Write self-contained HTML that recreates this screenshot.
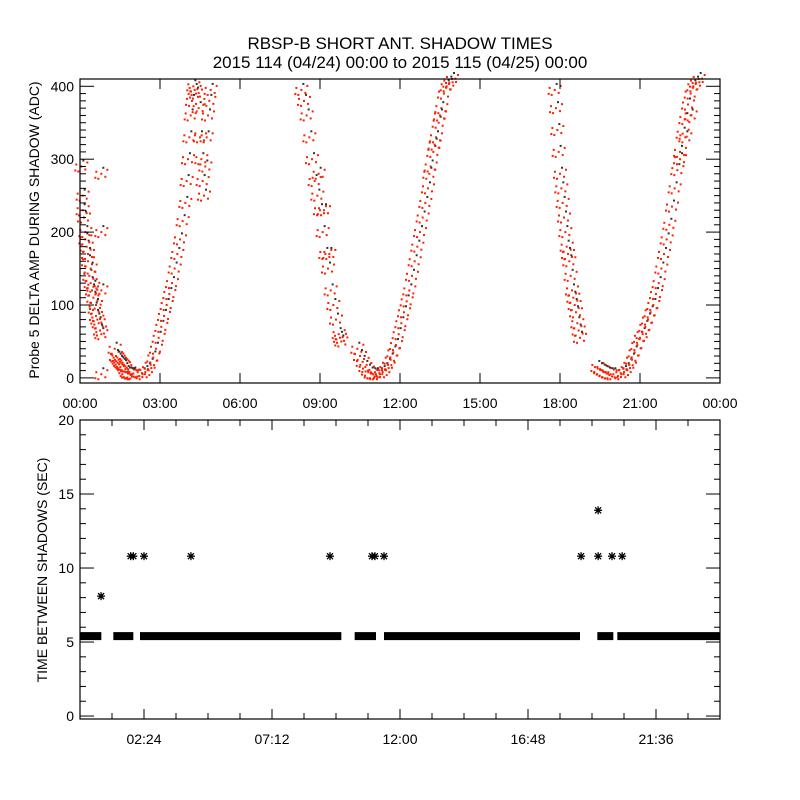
<!DOCTYPE html>
<html><head><meta charset="utf-8"><style>
html,body{margin:0;padding:0;background:#fff;}
svg{display:block;font-family:"Liberation Sans",sans-serif;}
</style></head><body>
<svg id="c" width="800" height="800" xmlns="http://www.w3.org/2000/svg">
<rect width="800" height="800" fill="#fff"/>
<text x="400" y="49" text-anchor="middle" font-size="17">RBSP-B SHORT ANT. SHADOW TIMES</text>
<text x="400" y="68" text-anchor="middle" font-size="17">2015 114 (04/24) 00:00 to 2015 115 (04/25) 00:00</text>
<text transform="translate(39,230) rotate(-90)" text-anchor="middle" font-size="14">Probe 5 DELTA AMP DURING SHADOW (ADC)</text>
<text transform="translate(47,570) rotate(-90)" text-anchor="middle" font-size="14">TIME BETWEEN SHADOWS (SEC)</text>
<g id="top"></g>
<g id="bot"></g>
</svg>
<script>
// ---- top panel data (hours, ADC) ----
const ampHours = [
0.05,0.1,0.15,0.2,0.25,0.3,0.35,0.4,0.45,0.5,0.55,0.6,0.65,0.7,0.75,0.1,0.2,0.3,0.4,0.5,0.6,0.8,0.8,0.8,0.8,0.8,
1.3,1.35,1.4,1.45,1.5,1.55,1.6,1.65,1.7,1.75,1.8,1.85,1.9,1.95,2.0,
2.35,2.45,2.55,2.65,2.75,2.85,2.95,3.05,3.15,3.25,3.35,3.45,3.55,3.65,3.75,3.85,3.95,4.0,4.05,4.1,4.15,4.2,4.25,4.3,4.35,4.45,4.5,4.55,4.6,4.65,4.7,4.75,4.8,4.85,4.9,
8.3,8.4,8.5,8.6,8.7,8.8,8.9,9.0,9.1,9.2,9.3,9.4,9.5,9.6,9.7,9.75,9.8,8.95,9.15,9.35,
10.4,10.5,10.6,10.7,10.8,10.9,11.0,11.1,
11.25,11.35,11.45,11.55,11.65,11.75,11.85,11.95,12.05,12.15,12.25,12.35,12.45,12.55,12.65,12.75,12.85,12.95,13.05,13.15,13.25,13.35,13.45,13.55,13.65,13.75,13.85,13.95,13.1,13.3,13.5,
17.8,17.85,17.9,17.95,18.0,18.05,18.1,18.15,18.2,18.25,18.3,18.35,18.4,18.45,18.5,18.55,18.6,18.65,18.7,18.75,
19.4,19.5,19.6,19.7,19.8,19.9,20.0,
20.3,20.4,20.5,20.6,20.7,20.8,20.9,21.0,21.1,21.2,21.3,21.4,21.5,21.6,21.7,21.8,21.9,22.0,22.1,22.2,22.3,22.4,22.5,22.6,22.7,22.8,22.9,23.0,23.1,23.2,22.5,22.7,22.9];
const ampValues = [
290,250,220,200,180,160,140,130,120,110,95,85,80,75,65,230,190,170,150,125,100,280,200,120,60,5,
40,30,28,25,22,20,18,16,12,8,6,6,5,5,6,
5,8,12,18,28,40,55,70,85,100,115,130,150,170,190,215,240,270,300,330,360,380,400,395,390,370,330,300,270,250,290,330,360,380,395,
395,380,360,330,300,270,250,230,200,170,150,120,100,80,60,55,50,280,230,170,
40,30,22,15,10,6,5,5,
5,8,12,18,25,35,45,60,75,90,105,120,140,160,180,200,220,240,260,290,310,330,350,370,390,400,405,410,280,320,360,
395,370,340,310,280,260,240,220,200,180,170,160,140,120,110,100,90,75,65,55,
15,12,10,8,6,5,5,
5,8,12,18,25,35,45,55,60,70,80,90,100,115,130,150,170,190,210,235,260,285,310,335,355,375,390,400,405,410,300,330,360];
const topYTicks = [0,100,200,300,400];
const topXTickLabels = ["00:00","03:00","06:00","09:00","12:00","15:00","18:00","21:00","00:00"];
// ---- bottom panel data ----
const bandStart = [0.0,1.25,2.25,10.3,11.4,19.4,20.15];
const bandEnd   = [0.8,2.0,9.8,11.1,18.75,20.0,24.0];
const bandValue = [5.4,5.4,5.4,5.4,5.4,5.4,5.4];
const starHours  = [0.79,1.9,2.0,2.4,4.16,9.375,10.95,11.06,11.4,18.79,19.43,19.43,19.95,20.33];
const starValues = [8.1,10.8,10.8,10.8,10.8,10.8,10.8,10.8,10.8,10.8,13.9,10.8,10.8,10.8];
const botYTicks = [0,5,10,15,20];
const botXTickLabels = ["02:24","07:12","12:00","16:48","21:36"];

const NS="http://www.w3.org/2000/svg";
function mk(p,tag,a){const e=document.createElementNS(NS,tag);for(const k in a)e.setAttribute(k,a[k]);p.appendChild(e);return e;}
const L=80,R=720;
const xs=h=>L+(h/24)*(R-L);
// top axes
const T=document.getElementById('top');
const tT=79,tB=383,tMin=-7,tMax=410;
const ty=v=>tB-(v-tMin)/(tMax-tMin)*(tB-tT);
const cloud=[[0,0,'#ff2000'],[-5,-2,'#ff2000'],[4,3,'#ff2000'],[-3,5,'#ff2000'],[6,-4,'#ff2000'],[2,-6,'#333'],[-6,4,'#ff2000']];
ampHours.forEach((h,i)=>{
  const cx=xs(h),cy=ty(ampValues[i]);
  cloud.forEach(o=>{
    const y=Math.min(cy+o[1],tB-3);
    const d=mk(T,'rect',{x:cx+o[0]-1,y:y-1,width:2,height:2,fill:o[2]});
    
    
  });
});
mk(T,'rect',{x:L,y:tT,width:R-L,height:tB-tT,fill:'none',stroke:'#000','stroke-width':1.2});
for(let v=0;v<=410;v+=10){const y=ty(v);const len=v%100===0?14:6;
  mk(T,'line',{x1:L,x2:L+len,y1:y,y2:y,stroke:'#000'});mk(T,'line',{x1:R,x2:R-len,y1:y,y2:y,stroke:'#000'});}
topYTicks.forEach(v=>{const t=mk(T,'text',{x:L-6,y:ty(v)+5,'text-anchor':'end','font-size':14});t.textContent=v;
  });
topXTickLabels.forEach((s,i)=>{const x=xs(i*3);
  mk(T,'line',{x1:x,x2:x,y1:tB,y2:tB-10,stroke:'#000'});mk(T,'line',{x1:x,x2:x,y1:tT,y2:tT+10,stroke:'#000'});
  const t=mk(T,'text',{x:x,y:408,'text-anchor':'middle','font-size':14});t.textContent=s;
  });
// bottom
const B=document.getElementById('bot');
const bT=420,bB=719,bMin=-0.2,bMax=20;
const by=v=>bB-(v-bMin)/(bMax-bMin)*(bB-bT);
bandStart.forEach((s,i)=>{const r=mk(B,'rect',{x:xs(s),y:by(bandValue[i])-4,width:xs(bandEnd[i])-xs(s),height:8,fill:'#000'});
  });
starHours.forEach((h,i)=>{const g=mk(B,'g',{});
  const x=xs(h),y=by(starValues[i]);
  mk(g,'line',{x1:x-4,x2:x+4,y1:y,y2:y,stroke:'#000','stroke-width':1.3});
  mk(g,'line',{x1:x,x2:x,y1:y-4,y2:y+4,stroke:'#000','stroke-width':1.3});
  mk(g,'line',{x1:x-3,x2:x+3,y1:y-3,y2:y+3,stroke:'#000','stroke-width':1.3});
  mk(g,'line',{x1:x-3,x2:x+3,y1:y+3,y2:y-3,stroke:'#000','stroke-width':1.3});});
mk(B,'rect',{x:L,y:bT,width:R-L,height:bB-bT,fill:'none',stroke:'#000','stroke-width':1.2});
for(let v=0;v<=20;v+=1){const y=by(v);const len=v%5===0?14:6;
  mk(B,'line',{x1:L,x2:L+len,y1:y,y2:y,stroke:'#000'});mk(B,'line',{x1:R,x2:R-len,y1:y,y2:y,stroke:'#000'});}
botYTicks.forEach(v=>{const t=mk(B,'text',{x:L-6,y:by(v)+5,'text-anchor':'end','font-size':14});t.textContent=v;
  });
for(let k=1;k<20;k++){const x=xs(k*1.2);const len=k%4===2?10:6;
  mk(B,'line',{x1:x,x2:x,y1:bB,y2:bB-len,stroke:'#000'});mk(B,'line',{x1:x,x2:x,y1:bT,y2:bT+len,stroke:'#000'});}
botXTickLabels.forEach((s,i)=>{const x=xs(2.4+i*4.8);
  const t=mk(B,'text',{x:x,y:744,'text-anchor':'middle','font-size':14});t.textContent=s;
  });
</script>
</body></html>
